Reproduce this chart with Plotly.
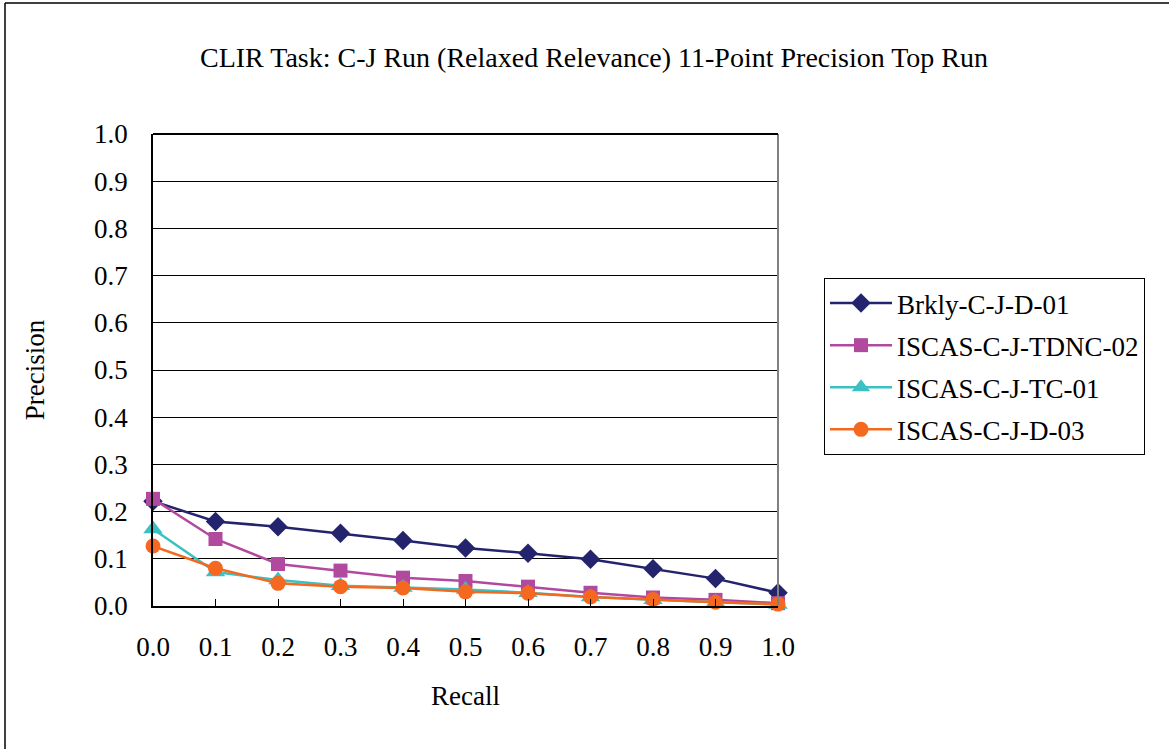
import plotly.graph_objects as go

recall = [0.0, 0.1, 0.2, 0.3, 0.4, 0.5, 0.6, 0.7, 0.8, 0.9, 1.0]
x_tick_labels = ["0.0", "0.1", "0.2", "0.3", "0.4", "0.5", "0.6", "0.7", "0.8", "0.9", "1.0"]
y_tick_vals = [0.0, 0.1, 0.2, 0.3, 0.4, 0.5, 0.6, 0.7, 0.8, 0.9, 1.0]
y_tick_labels = ["0.0", "0.1", "0.2", "0.3", "0.4", "0.5", "0.6", "0.7", "0.8", "0.9", "1.0"]

brkly_c_j_d_01 = [0.222, 0.179, 0.168, 0.154, 0.139, 0.123, 0.112, 0.099, 0.079, 0.058, 0.028]
iscas_c_j_tdnc_02 = [0.227, 0.142, 0.089, 0.075, 0.060, 0.053, 0.041, 0.028, 0.018, 0.013, 0.006]
iscas_c_j_tc_01 = [0.163, 0.072, 0.055, 0.043, 0.039, 0.035, 0.028, 0.019, 0.013, 0.008, 0.003]
iscas_c_j_d_03 = [0.127, 0.080, 0.048, 0.041, 0.038, 0.030, 0.027, 0.019, 0.014, 0.008, 0.004]

series = [
    ("Brkly-C-J-D-01", brkly_c_j_d_01, "#24246E", "diamond", 15),
    ("ISCAS-C-J-TDNC-02", iscas_c_j_tdnc_02, "#B14A9E", "square", 14),
    ("ISCAS-C-J-TC-01", iscas_c_j_tc_01, "#3BC1C3", "triangle-up", 17),
    ("ISCAS-C-J-D-03", iscas_c_j_d_03, "#F4681F", "circle", 15),
]

fig = go.Figure()
for name, vals, color, sym, size in series:
    fig.add_trace(go.Scatter(
        x=recall, y=vals, name=name, mode="lines+markers", legendgroup=name,
        line=dict(color=color, width=2.5),
        marker=dict(symbol=sym, size=size, color=color),
        cliponaxis=False,
    ))

font = "Liberation Serif, Times New Roman, serif"
fs = 27
fig.update_layout(
    width=1169, height=749,
    margin=dict(l=153, r=391, t=134, b=143),
    paper_bgcolor="white", plot_bgcolor="white",
    font=dict(family=font, size=fs, color="black"),
    title=dict(text="CLIR Task: C-J Run (Relaxed Relevance) 11-Point Precision Top Run",
               x=594 / 1169, xanchor="center", y=1 - 57 / 749, yanchor="middle",
               font=dict(family=font, size=28, color="black")),
    showlegend=True,
    legend=dict(x=(824 - 153) / 625, y=(606 - 278) / 472, xanchor="left", yanchor="top",
                bordercolor="black", borderwidth=1, bgcolor="white",
                font=dict(family=font, size=fs), tracegroupgap=4, itemwidth=62),
)
fig.update_xaxes(
    range=[0, 1], tickvals=recall, ticktext=x_tick_labels,
    showgrid=False, zeroline=False,
    showline=True, linecolor="black", linewidth=2,
    ticks="inside", ticklen=7, tickcolor="black", ticklabelstandoff=16,
    title=dict(text="Recall", standoff=25, font=dict(family=font, size=fs)),
)
fig.update_yaxes(
    range=[0, 1], tickvals=y_tick_vals, ticktext=y_tick_labels,
    showgrid=True, gridcolor="black", gridwidth=1, zeroline=False,
    showline=True, linecolor="black", linewidth=1.5,
    ticks="inside", ticklen=8, tickcolor="black", ticklabelstandoff=18,
    title=dict(text="Precision", standoff=42, font=dict(family=font, size=fs)),
)
# plot-area right border (grey) and top border
fig.add_shape(type="line", xref="paper", yref="paper", x0=1, x1=1, y0=0, y1=1,
              line=dict(color="#808080", width=2))
fig.add_shape(type="line", xref="paper", yref="paper", x0=0, x1=1, y0=1, y1=1,
              line=dict(color="black", width=2))
# outer chart border (top and left edges visible)
fig.add_shape(type="line", xref="paper", yref="paper",
              x0=(5 - 153) / 625, x1=(1180 - 153) / 625,
              y0=(606 - 3) / 472, y1=(606 - 3) / 472,
              line=dict(color="black", width=1.5))
fig.add_shape(type="line", xref="paper", yref="paper",
              x0=(5 - 153) / 625, x1=(5 - 153) / 625,
              y0=(606 - 3) / 472, y1=(606 - 760) / 472,
              line=dict(color="black", width=1.5))

fig.write_html("out.html", config={"displayModeBar": False},
               post_script="document.body.style.margin='0';document.body.style.overflow='hidden';")
